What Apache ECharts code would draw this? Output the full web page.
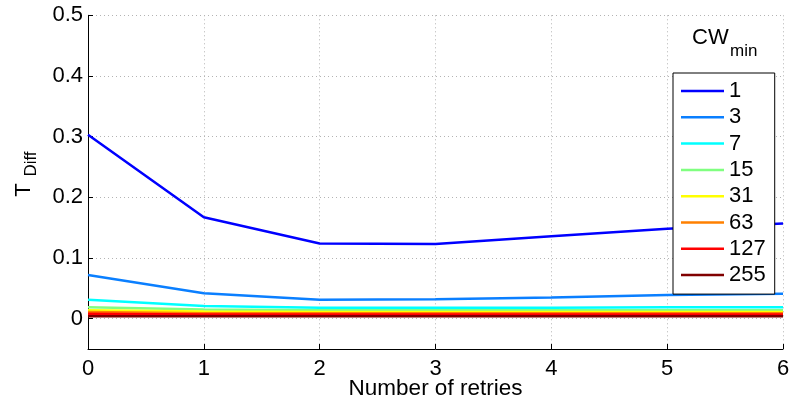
<!DOCTYPE html>
<html>
<head>
<meta charset="utf-8">
<script src="https://cdn.jsdelivr.net/npm/echarts@6/dist/echarts.min.js"></script>
<style>
  html, body { margin: 0; padding: 0; background: #fff; }
  #chart { width: 790px; height: 402px; }
</style>
</head>
<body>
<div id="chart"></div>
<script>
// Retry counts on the x axis
const retries = [0, 1, 2, 3, 4, 5, 6];
// Minimum contention window values, one line each
const cwMin = ['1', '3', '7', '15', '31', '63', '127', '255'];
// T_Diff per retry count for each CW_min
const tCw1   = [0.303, 0.167, 0.124, 0.123, 0.136, 0.148, 0.157];
const tCw3   = [0.072, 0.042, 0.031, 0.032, 0.035, 0.039, 0.041];
const tCw7   = [0.031, 0.021, 0.018, 0.018, 0.018, 0.019, 0.019];
const tCw15  = [0.019, 0.015, 0.014, 0.014, 0.014, 0.014, 0.014];
const tCw31  = [0.014, 0.012, 0.011, 0.011, 0.011, 0.011, 0.011];
const tCw63  = [0.011, 0.009, 0.009, 0.009, 0.009, 0.009, 0.009];
const tCw127 = [0.008, 0.007, 0.007, 0.007, 0.007, 0.007, 0.007];
const tCw255 = [0.004, 0.004, 0.004, 0.004, 0.004, 0.004, 0.004];
// Y tick labels
const yTicks = [0, 0.1, 0.2, 0.3, 0.4, 0.5];

const allSeries = [tCw1, tCw3, tCw7, tCw15, tCw31, tCw63, tCw127, tCw255];
const palette = ['#0000ff', '#0a7fff', '#00ffff', '#80ff80', '#ffff00', '#ff8000', '#ff0000', '#800000'];

const FONT = '"Liberation Sans", Arial, Helvetica, sans-serif';
const gridLine = { show: true, lineStyle: { color: '#b4b4b4', width: 1, type: [1, 3] } };

const chart = echarts.init(document.getElementById('chart'), null, { renderer: 'canvas' });

chart.setOption({
  animation: false,
  backgroundColor: '#ffffff',
  grid: { left: 88, right: 7, top: 15.3, bottom: 53, containLabel: false, outerBoundsMode: 'none' },
  xAxis: {
    type: 'value',
    min: 0, max: 6, interval: 1,
    name: 'Number of retries',
    nameLocation: 'middle',
    nameGap: 28,
    nameMoveOverlap: false,
    nameTextStyle: { fontFamily: FONT, fontSize: 22.5, color: '#000' },
    axisLine: { onZero: false, lineStyle: { color: '#000', width: 1 } },
    axisTick: { inside: true, length: 5, lineStyle: { color: '#000' } },
    axisLabel: { fontFamily: FONT, fontSize: 22, color: '#000', margin: 9 },
    splitLine: gridLine
  },
  yAxis: {
    type: 'value',
    min: -0.05, max: 0.5,
    axisLine: { show: true, onZero: false, lineStyle: { color: '#000', width: 1 } },
    axisTick: { show: true, inside: true, length: 5, customValues: yTicks, lineStyle: { color: '#000' } },
    axisLabel: { fontFamily: FONT, fontSize: 22, color: '#000', margin: 5, customValues: yTicks },
    splitLine: gridLine
  },
  legend: {
    data: cwMin,
    orient: 'vertical',
    left: 673, top: 73,
    padding: [7, 9, 8, 8],
    icon: 'rect',
    itemWidth: 43, itemHeight: 2.5, itemGap: 4.3,
    backgroundColor: '#ffffff',
    borderColor: '#000', borderWidth: 1,
    textStyle: { fontFamily: FONT, fontSize: 22, lineHeight: 21, color: '#000' },
    selectedMode: false
  },
  graphic: [
    { type: 'text', left: 692, top: 27, style: { text: 'CW', font: '22px ' + FONT, fill: '#000' } },
    { type: 'text', x: 730, y: 51.5, style: { text: 'min', font: '17px ' + FONT, fill: '#000', textVerticalAlign: 'middle' } },
    { type: 'text', x: 23.5, y: 190, rotation: Math.PI / 2, style: { text: 'T', font: '22px ' + FONT, fill: '#000', textAlign: 'center', textVerticalAlign: 'middle' } },
    { type: 'text', x: 31.5, y: 164, rotation: Math.PI / 2, style: { text: 'Diff', font: '17px ' + FONT, fill: '#000', textAlign: 'center', textVerticalAlign: 'middle' } }
  ],
  series: allSeries.map((vals, i) => ({
    name: cwMin[i],
    type: 'line',
    data: retries.map((r, j) => [r, vals[j]]),
    symbol: 'none',
    lineStyle: { color: palette[i], width: 2.5 },
    itemStyle: { color: palette[i] },
    emphasis: { disabled: true },
    z: 2 + i * 0.01
  }))
});
</script>
</body>
</html>
